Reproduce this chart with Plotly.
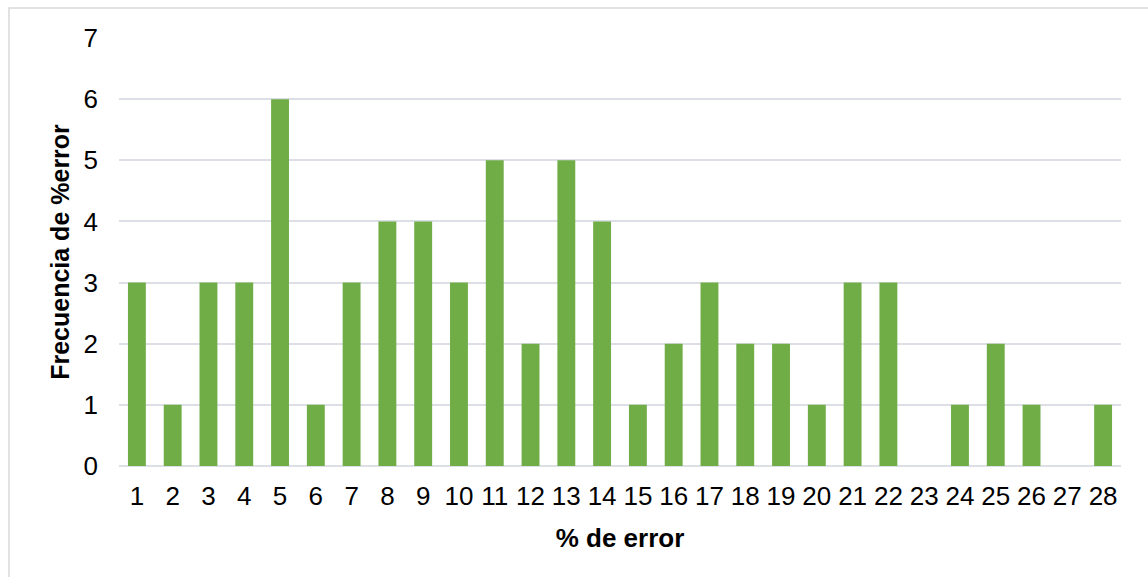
import plotly.graph_objects as go

# Histogram of percentage error values
error_pct = [str(i) for i in range(1, 29)]
frequency = [3, 1, 3, 3, 6, 1, 3, 4, 4, 3, 5, 2, 5, 4, 1, 2, 3, 2, 2, 1, 3, 3, 0, 1, 2, 1, 0, 1]
y_ticks = [0, 1, 2, 3, 4, 5, 6, 7]

W, H = 1148, 577
ML, MR, MT, MB = 119, 27, 38, 111

fig = go.Figure(
    go.Bar(
        x=error_pct,
        y=frequency,
        marker=dict(color="#70AD47", line=dict(width=0)),
        hoverinfo="x+y",
    )
)

grid = "#DCE0E6"
font = "Liberation Sans, Arial, sans-serif"

fig.update_layout(
    width=W,
    height=H,
    margin=dict(l=ML, r=MR, t=MT, b=MB),
    paper_bgcolor="white",
    plot_bgcolor="white",
    bargap=0.5,
    showlegend=False,
    font=dict(family=font, color="#000000"),
    xaxis=dict(
        type="category",
        tickfont=dict(size=26, color="#000000"),
        showgrid=False,
        ticks="",
        showline=False,
        zeroline=False,
        ticklabelstandoff=12,
        title=dict(text="<b>% de error</b>", font=dict(size=26), standoff=18),
    ),
    yaxis=dict(
        range=[0, 7],
        tickvals=y_ticks,
        tickfont=dict(size=26, color="#000000"),
        showgrid=True,
        gridcolor=grid,
        gridwidth=1.5,
        zeroline=True,
        zerolinecolor=grid,
        zerolinewidth=1.5,
        ticks="",
        ticklabelstandoff=20,
        title=dict(text="<b>Frecuencia de %error</b>", font=dict(size=25), standoff=6),
    ),
)

# Outer chart border (runs past the right and bottom edges)
pw = W - ML - MR
ph = H - MT - MB
fig.add_shape(
    type="rect",
    xref="paper",
    yref="paper",
    x0=(9 - ML) / pw,
    x1=(W + 5 - ML) / pw,
    y0=(H - MB - (H + 5)) / ph,
    y1=(H - MB - 8) / ph,
    line=dict(color="#D9D9D9", width=1.5),
    fillcolor="rgba(0,0,0,0)",
    layer="below",
)

fig.write_html("out.html")
